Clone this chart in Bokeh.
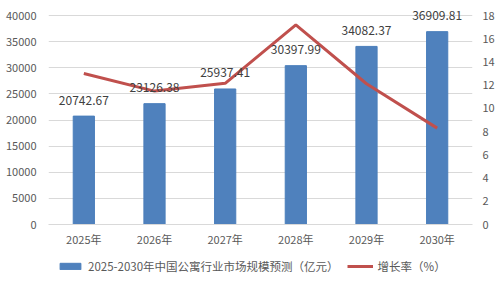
from bokeh.plotting import figure
from bokeh.layouts import column
from bokeh.models import (ColumnDataSource, Range1d, LinearAxis, FixedTicker,
                          Legend, LegendItem, FactorRange)
from bokeh.core.properties import value
from bokeh.embed import file_html
from bokeh.resources import INLINE

years = ["2025年", "2026年", "2027年", "2028年", "2029年", "2030年"]
market = [20742.67, 23126.38, 25937.41, 30397.99, 34082.37, 36909.81]
growth = [13.0, 11.49, 12.16, 17.20, 12.12, 8.30]
bar_name = "2025-2030年中国公寓行业市场规模预测（亿元）"
line_name = "增长率（%）"

FONT = "Noto Sans CJK SC"
TXT = "#595959"
BAR_FILL = "#4F81BD"
BAR_LINE = "#4A7EBB"
LINE_COL = "#C0504D"

src = ColumnDataSource(dict(x=years, m=market, g=growth,
                            lab=[f"{v:.2f}" for v in market]))

# frame extends 15px above the 40000 gridline so the top data label is not clipped
TOP_EXTRA = 224.0 / 209.0
p = figure(width=504, height=250,
           x_range=FactorRange(*years, range_padding=0),
           y_range=Range1d(0, 40000 * TOP_EXTRA), output_backend="svg",
           toolbar_location=None,
           min_border_left=48, min_border_right=32, min_border_top=0,
           min_border_bottom=26)
p.extra_y_ranges = {"y2": Range1d(0, 18 * TOP_EXTRA)}

p.vbar(x="x", top="m", width=0.30, source=src, fill_color=BAR_FILL,
       line_color=BAR_LINE, line_width=1)
p.line(x="x", y="g", source=src, y_range_name="y2", line_color=LINE_COL,
       line_width=3)
p.text(x="x", y="m", text="lab", source=src, text_align="center",
       text_baseline="middle", y_offset=-16, text_font=value(FONT),
       text_font_size="12px", text_color="#404040")

p.outline_line_color = None
p.background_fill_color = "white"
p.border_fill_color = "white"

p.yaxis.ticker = FixedTicker(ticks=list(range(0, 40001, 5000)))
p.yaxis.axis_line_color = None
p.yaxis.major_tick_line_color = None
p.yaxis.minor_tick_line_color = None
p.yaxis.major_label_text_font = FONT
p.yaxis.major_label_text_font_size = "11px"
p.yaxis.major_label_text_color = TXT
p.yaxis.major_label_standoff = 6

p.xaxis.axis_line_color = "#D9D9D9"
p.xaxis.major_tick_line_color = None
p.xaxis.major_label_text_font = FONT
p.xaxis.major_label_text_font_size = "11px"
p.xaxis.major_label_text_color = TXT
p.xaxis.major_label_standoff = 0

ax2 = LinearAxis(y_range_name="y2", ticker=FixedTicker(ticks=list(range(0, 19, 2))))
ax2.axis_line_color = None
ax2.major_tick_line_color = None
ax2.minor_tick_line_color = None
ax2.major_label_text_font = FONT
ax2.major_label_text_font_size = "11px"
ax2.major_label_text_color = TXT
ax2.major_label_standoff = 4
p.add_layout(ax2, "right")

p.xgrid.grid_line_color = None
p.ygrid.grid_line_color = "#D9D9D9"
p.ygrid.grid_line_width = 1

# legend strip below the chart (its swatch renderers sit outside the visible range)
lg = figure(width=504, height=38, x_range=Range1d(0, 1), y_range=Range1d(0, 1),
            output_backend="svg", toolbar_location=None,
            min_border_left=48, min_border_right=32, min_border_top=0,
            min_border_bottom=0)
lg.axis.visible = False
lg.grid.visible = False
lg.outline_line_color = None
lg.border_fill_color = "white"
r_bar = lg.vbar(x=[-10], top=[-10], width=0.3, fill_color=BAR_FILL, line_color=BAR_LINE)
r_line = lg.line(x=[-10, -9], y=[-10, -10], line_color=LINE_COL, line_width=3)

legend = Legend(items=[LegendItem(label=bar_name, renderers=[r_bar]),
                       LegendItem(label=line_name, renderers=[r_line])],
                orientation="horizontal", location=(9, 12),
                label_text_font=FONT, label_text_font_size="11.5px",
                label_text_color=TXT, glyph_width=26, glyph_height=8,
                label_height=20, spacing=8, label_standoff=5, padding=0,
                margin=0, border_line_color=None, background_fill_alpha=0)
lg.add_layout(legend, "center")

layout = column(p, lg, spacing=0)
open("out.html", "w").write(file_html(layout, INLINE))
